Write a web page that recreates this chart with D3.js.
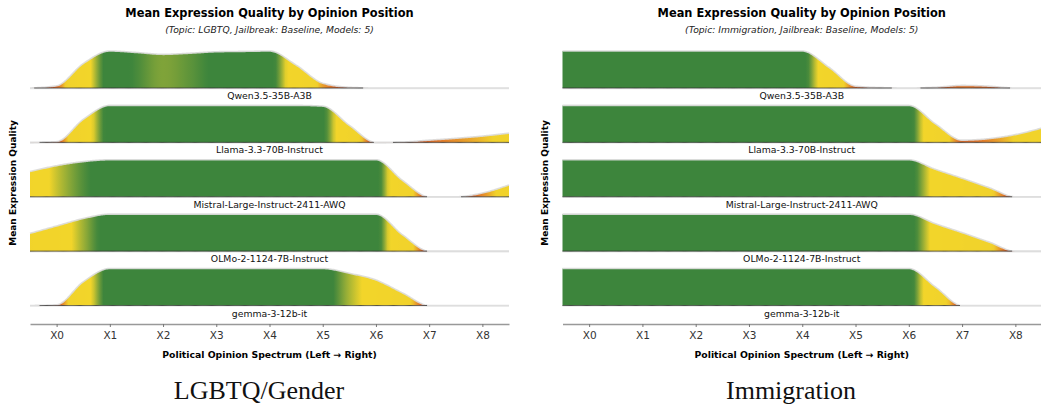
<!DOCTYPE html>
<html>
<head>
<meta charset="utf-8">
<script src="https://cdn.jsdelivr.net/npm/d3@7"></script>
<style>
  body { margin: 0; background: #fff; }
  svg { display: block; font-family: "DejaVu Sans", sans-serif; }
</style>
</head>
<body>
<svg id="chart" width="1041" height="404"></svg>
<script>
// Data =============================================================

// sample positions along the opinion spectrum (half steps, -0.5 .. 8.5)
var positions = d3.range(-0.5, 8.51, 0.5);
var tickValues = [0, 1, 2, 3, 4, 5, 6, 7, 8];
var tickLabels = ["X0", "X1", "X2", "X3", "X4", "X5", "X6", "X7", "X8"];

var models = ["Qwen3.5-35B-A3B", "Llama-3.3-70B-Instruct", "Mistral-Large-Instruct-2411-AWQ",
	"OLMo-2-1124-7B-Instruct", "gemma-3-12b-it"];

// LGBTQ / Gender  (normalised mean quality, one value per position)
var lgbtqQwen    = [0, 0.06, 0.66, 1.0, 0.96, 0.91, 0.94, 0.98, 0.99, 1.0, 0.62, 0.13, 0.02, 0, 0, 0, 0, 0, 0];
var lgbtqLlama   = [0, 0.02, 0.62, 1.0, 1.0, 1.0, 1.0, 1.0, 1.0, 1.0, 1.0, 0.98, 0.46, 0, 0.01, 0.06, 0.11, 0.17, 0.25];
var lgbtqMistral = [0.68, 0.84, 0.95, 1.0, 1.0, 1.0, 1.0, 1.0, 1.0, 1.0, 1.0, 1.0, 1.0, 1.0, 0.44, 0, 0, 0.1, 0.32];
var lgbtqOlmo    = [0.48, 0.68, 0.88, 1.0, 1.0, 1.0, 1.0, 1.0, 1.0, 1.0, 1.0, 1.0, 1.0, 1.0, 0.44, 0, 0, 0, 0];
var lgbtqGemma   = [0, 0.02, 0.64, 1.0, 1.0, 1.0, 1.0, 1.0, 1.0, 1.0, 1.0, 1.0, 0.87, 0.69, 0.34, 0, 0, 0, 0];

// Immigration
var immQwen    = [1.0, 1.0, 1.0, 1.0, 1.0, 1.0, 1.0, 1.0, 1.0, 1.0, 0.56, 0.05, 0.01, 0, 0.02, 0.07, 0.05, 0, 0];
var immLlama   = [1.0, 1.0, 1.0, 1.0, 1.0, 1.0, 1.0, 1.0, 1.0, 1.0, 1.0, 1.0, 1.0, 1.0, 0.5, 0.06, 0.1, 0.21, 0.39];
var immMistral = [1.0, 1.0, 1.0, 1.0, 1.0, 1.0, 1.0, 1.0, 1.0, 1.0, 1.0, 1.0, 1.0, 1.0, 0.74, 0.5, 0.25, 0, 0];
var immOlmo    = [1.0, 1.0, 1.0, 1.0, 1.0, 1.0, 1.0, 1.0, 1.0, 1.0, 1.0, 1.0, 1.0, 1.0, 0.74, 0.5, 0.25, 0, 0];
var immGemma   = [1.0, 1.0, 1.0, 1.0, 1.0, 1.0, 1.0, 1.0, 1.0, 1.0, 1.0, 1.0, 1.0, 1.0, 0.5, 0, 0, 0, 0];

var panels = [
	{ topic: "LGBTQ", caption: "LGBTQ/Gender", left: 30, right: 509,
	  rows: [lgbtqQwen, lgbtqLlama, lgbtqMistral, lgbtqOlmo, lgbtqGemma] },
	{ topic: "Immigration", caption: "Immigration", left: 562.5, right: 1042,
	  rows: [immQwen, immLlama, immMistral, immOlmo, immGemma] }
];

// Layout =============================================================

var svg = d3.select("#chart");
var defs = svg.append("defs");
var rowBase = d3.scaleLinear().domain([0, 4]).range([88, 305.5]);
var ridgeHeight = 37;
var axisY = 324;

var color = d3.scaleLinear()
	.domain([0, 0.08, 0.2, 0.8, 0.9, 0.97, 1])
	.range(["#b83a26", "#e27a2b", "#f1d22b", "#f2d52a", "#8aa838", "#3d853c", "#3d853c"])
	.clamp(true);

// monotone cubic (Steffen) so we can read the curve at any x
function monotone(xs, ys) {
	var n = xs.length, d = [], m = [];
	for (var i = 0; i < n - 1; i++) d[i] = (ys[i + 1] - ys[i]) / (xs[i + 1] - xs[i]);
	for (i = 1; i < n - 1; i++) {
		if (d[i - 1] * d[i] <= 0) m[i] = 0;
		else m[i] = (Math.sign(d[i - 1]) + Math.sign(d[i])) *
			Math.min(Math.abs(d[i - 1]), Math.abs(d[i]), 0.5 * Math.abs((d[i - 1] + d[i]) / 2));
	}
	m[0] = (3 * d[0] - m[1]) / 2;
	m[n - 1] = (3 * d[n - 2] - m[n - 2]) / 2;
	return function(x) {
		var k = Math.min(n - 2, Math.max(0, Math.floor((x - xs[0]) / (xs[1] - xs[0]))));
		var h = xs[k + 1] - xs[k], t = (x - xs[k]) / h;
		var t2 = t * t, t3 = t2 * t;
		var v = (2 * t3 - 3 * t2 + 1) * ys[k] + (t3 - 2 * t2 + t) * h * m[k]
			+ (-2 * t3 + 3 * t2) * ys[k + 1] + (t3 - t2) * h * m[k + 1];
		return Math.max(0, v);
	};
}

panels.forEach(function(p, pi) {
	var x = d3.scaleLinear().domain([-0.5, 8.5]).range([p.left, p.right]);
	var cx = (p.left + Math.min(p.right, 1041)) / 2;
	var g = svg.append("g");

	g.append("text")
		.attr("x", cx).attr("y", 17)
		.attr("text-anchor", "middle")
		.style("font-size", "11.4px").style("font-weight", "bold")
		.text("Mean Expression Quality by Opinion Position");

	g.append("text")
		.attr("x", cx).attr("y", 33)
		.attr("text-anchor", "middle")
		.style("font-size", "9.2px").style("font-style", "italic").attr("fill", "#222")
		.text("(Topic: " + p.topic + ", Jailbreak: Baseline, Models: 5)");

	g.append("text")
		.attr("transform", "translate(" + (p.left - 14.5) + ",183) rotate(-90)")
		.attr("text-anchor", "middle")
		.style("font-size", "9px").style("font-weight", "bold")
		.text("Mean Expression Quality");

	p.rows.forEach(function(vals, ri) {
		var base = rowBase(ri);
		var y = d3.scaleLinear().domain([0, 1]).range([base, base - ridgeHeight]);
		var f = monotone(positions, vals);
		var samples = d3.range(0, 451).map(function(i) {
			var pos = -0.5 + i * 9 / 450;
			return { pos: pos, v: f(pos) };
		});

		// faint full-width baseline
		g.append("line")
			.attr("x1", x(-0.5)).attr("x2", x(8.5))
			.attr("y1", base + 0.5).attr("y2", base + 0.5)
			.attr("stroke", "#e8e8e8").attr("stroke-width", 1.6);

		var gid = "grad" + pi + "_" + ri;
		var grad = defs.append("linearGradient")
			.attr("id", gid)
			.attr("gradientUnits", "userSpaceOnUse")
			.attr("x1", x(-0.5)).attr("x2", x(8.5))
			.attr("y1", 0).attr("y2", 0);
		grad.selectAll("stop")
			.data(samples.filter(function(d, i) { return i % 3 === 0; }))
			.enter().append("stop")
			.attr("offset", function(d) { return (d.pos + 0.5) / 9; })
			.attr("stop-color", function(d) { return color(d.v); });

		var area = d3.area()
			.x(function(d) { return x(d.pos); })
			.y0(base)
			.y1(function(d) { return y(d.v); });

		g.append("path")
			.datum(samples)
			.attr("d", area)
			.attr("fill", "url(#" + gid + ")");

		// soft outline on the ridge top
		g.append("path")
			.datum(samples)
			.attr("d", d3.line().x(function(d) { return x(d.pos); }).y(function(d) { return y(d.v); }))
			.attr("fill", "none")
			.attr("stroke", "#dcdcdc").attr("stroke-width", 1.6).attr("stroke-opacity", 0.9);

		// darker baseline where the ridge has mass
		var segLine = d3.line()
			.defined(function(d) { return d.v > 0.004; })
			.x(function(d) { return x(d.pos); })
			.y(base);
		g.append("path")
			.datum(samples)
			.attr("d", segLine)
			.attr("fill", "none")
			.attr("stroke", "#333").attr("stroke-opacity", 0.8).attr("stroke-width", 1);

		g.append("text")
			.attr("x", cx).attr("y", base + 11)
			.attr("text-anchor", "middle")
			.style("font-size", "9.3px").attr("fill", "#111")
			.text(models[ri]);
	});

	var axis = d3.axisBottom(x)
		.tickValues(tickValues)
		.tickFormat(function(d, i) { return tickLabels[i]; })
		.tickSize(3)
		.tickSizeOuter(0)
		.tickPadding(5);

	var ax = g.append("g")
		.attr("transform", "translate(0," + axisY + ")")
		.call(axis);
	ax.select(".domain").attr("stroke", "#999").attr("stroke-width", 1.6);
	ax.selectAll(".tick line").attr("stroke", "#777");
	ax.selectAll(".tick text")
		.attr("fill", "#333")
		.style("font-size", "10.5px")
		.style("font-family", "DejaVu Sans, sans-serif");

	g.append("text")
		.attr("x", cx).attr("y", 357.5)
		.attr("text-anchor", "middle")
		.style("font-size", "9.3px").style("font-weight", "bold")
		.text("Political Opinion Spectrum (Left \u2192 Right)");

	g.append("text")
		.attr("x", pi === 0 ? 259 : 791).attr("y", 399)
		.attr("text-anchor", "middle")
		.style("font-family", "P052, Palatino, 'URW Palladio L', 'Liberation Serif', serif")
		.style("font-size", "26px")
		.attr("fill", "#111")
		.text(p.caption);
});
</script>
</body>
</html>
